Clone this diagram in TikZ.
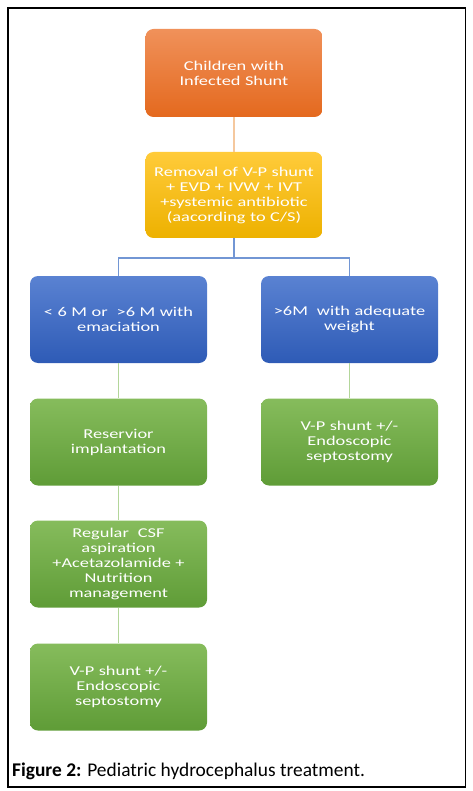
\documentclass[tikz,border=0pt]{standalone}
\usepackage{fontspec}
\setmainfont{Carlito}
\newfontfamily\boxfont[FakeStretch=1.36]{Carlito}
\usetikzlibrary{positioning}
\definecolor{orT}{HTML}{F0915A}
\definecolor{orB}{HTML}{E4691E}
\definecolor{yeT}{HTML}{FFCB3A}
\definecolor{yeB}{HTML}{EDB100}
\definecolor{blT}{HTML}{5A82D2}
\definecolor{blB}{HTML}{2E5BB6}
\definecolor{grT}{HTML}{86BC5C}
\definecolor{grB}{HTML}{5F9C37}
\definecolor{lnOr}{HTML}{F5C89E}
\definecolor{lnBl}{HTML}{7296D4}
\definecolor{lnGr}{HTML}{B3D69A}
\tikzset{
  box/.style={rounded corners=8pt, minimum width=177pt, text width=174pt, align=center,
    text=white, font=\boxfont\fontsize{13.5}{15}\selectfont, inner sep=0pt},
  obox/.style={box, top color=orT, bottom color=orB, minimum height=88pt},
  ybox/.style={box, top color=yeT, bottom color=yeB, minimum height=86pt},
  bbox/.style={box, top color=blT, bottom color=blB, minimum height=87pt},
  gbox/.style={box, top color=grT, bottom color=grB, minimum height=87pt},
  conn/.style={line width=1.2pt}
}
\begin{document}
\begin{tikzpicture}[x=1pt,y=-1pt]
\useasboundingbox (0,0) rectangle (472,791);
\draw[line width=1.3pt] (8,8) rectangle (465.5,787);
\node[obox] (a) at (234,73) {Children with\\Infected Shunt};
\node[ybox] (b) at (234,195) {Removal of V-P shunt\\+ EVD + IVW + IVT\\+systemic antibiotic\\(aacording to C/S)};
\node[bbox] (c) at (118.5,319.5) {\textless{} 6 M or \ \textgreater{}6 M with\\emaciation};
\node[bbox] (d) at (349.5,319.5) {\textgreater{}6M \ with adequate\\weight};
\node[gbox] (e) at (118.5,442) {Reservior\\implantation};
\node[gbox] (f) at (349.5,442) {V-P shunt +/-\\Endoscopic\\septostomy};
\node[gbox] (g) at (118.5,564) {Regular \ CSF\\aspiration\\+Acetazolamide +\\Nutrition\\management};
\node[gbox] (h) at (118.5,687) {V-P shunt +/-\\Endoscopic\\septostomy};
\coordinate (j) at (234,258);
\draw[conn, lnOr] (a.south) -- (b.north);
\draw[conn, lnBl] (b.south) -- (j);
\draw[conn, lnBl] (c.north) |- (j) -| (d.north);
\draw[conn, lnGr] (c.south) -- (e.north);
\draw[conn, lnGr] (d.south) -- (f.north);
\draw[conn, lnGr] (e.south) -- (g.north);
\draw[conn, lnGr] (g.south) -- (h.north);
\node[anchor=base west, inner sep=0pt, font=\fontsize{19.4}{21}\selectfont] (cap) at (12,776)
  {\textbf{Figure 2:} Pediatric hydrocephalus treatment.};
\end{tikzpicture}
\end{document}
